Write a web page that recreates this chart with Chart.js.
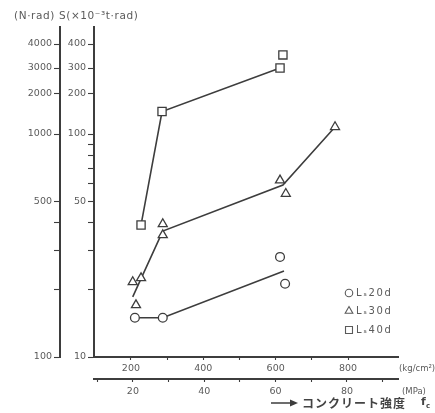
<!DOCTYPE html>
<html><head><meta charset="utf-8">
<script src="https://cdn.jsdelivr.net/npm/chart.js@4/dist/chart.umd.min.js"></script>
<style>html,body{margin:0;padding:0;background:#fff}#wrap{width:435px;height:413px;position:relative}</style>
</head><body><div id="wrap"><canvas id="c" width="435" height="413"></canvas></div>
<script>
// ---- data (x: concrete strength kg/cm2, y: S in x10^-3 t·rad) ----
const circleX = [211, 288, 612, 626];
const circleY = [15.0, 15.0, 28.1, 21.3];
const circleLineX = [211, 288, 623];
const circleLineY = [15.0, 15.0, 24.3];
const triX = [214, 205, 228, 288, 288, 612, 628, 764];
const triY = [17.1, 21.7, 22.6, 39.5, 35.2, 62, 54, 113];
const triLineX = [205, 288, 620, 764];
const triLineY = [18.6, 36.7, 59, 113];
const sqX = [228, 286, 612, 620];
const sqY = [39.1, 147.5, 300, 351];
const sqLineX = [228, 286, 612];
const sqLineY = [39.1, 147.5, 300];
const seriesNames = ['Lₛ20d', 'Lₛ30d', 'Lₛ40d'];

// ---- ticks ----
const yInnerTicks = [10,20,30,40,50,60,70,80,90,100,200,300,400];
const yInnerLabels = [10,50,100,200,300,400];
const yOuterTicks = [100,200,300,400,500,1000,2000,3000,4000];
const yOuterLabels = [100,500,1000,2000,3000,4000];
const xKgTicks = [200,300,400,500,600,700,800];
const xKgLabels = [200,400,600,800];
const xMpaTicks = [10,20,30,40,50,60,70,80,90];
const xMpaLabels = [20,40,60,80];

// ---- axis geometry of the printed (non-uniform) log scale ----
// [decades above axis minimum, fraction of axis height]
const KNOTS = [[0,0],[1,223/330],[Math.log10(20),263/330],[Math.log10(30),289/330],[Math.log10(40),313/330],[1.6906,1]];
function fwd(d){
  let i = 0;
  while (i < KNOTS.length-2 && d > KNOTS[i+1][0]) i++;
  const a = KNOTS[i], b = KNOTS[i+1];
  return a[1] + (d-a[0])*(b[1]-a[1])/(b[0]-a[0]);
}
function inv(f){
  let i = 0;
  while (i < KNOTS.length-2 && f > KNOTS[i+1][1]) i++;
  const a = KNOTS[i], b = KNOTS[i+1];
  return a[0] + (f-a[1])*(b[0]-a[0])/(b[1]-a[1]);
}
const LogBase = Chart.LogarithmicScale || Chart.registry.getScale('logarithmic');
class PieceLogScale extends LogBase {
  getPixelForValue(value){
    if (value === undefined || value === null || !(value > 0)) return NaN;
    return this.getPixelForDecimal(fwd(Math.log10(value/this.min)));
  }
  getValueForPixel(pixel){
    return this.min*Math.pow(10, inv(this.getDecimalForPixel(pixel)));
  }
}
PieceLogScale.id = 'piecelog';
PieceLogScale.defaults = {};
Chart.register(PieceLogScale);

const INK = '#3d3d3d';
const TXT = '#5a5a5a';
const FONT = {family:'DejaVu Sans', size:9.5};
const pts = (xs, ys) => xs.map((x,i)=>({x:x, y:ys[i]}));

function axisCommon(ticksArr, labelsArr, tickLen, pad){
  return {
    afterBuildTicks: s => { s.ticks = ticksArr.map(v=>({value:v})); },
    ticks: {autoSkip:false, maxRotation:0, padding:pad, color:TXT, font:FONT,
            callback: v => labelsArr.includes(v) ? String(v) : ''},
    grid: {drawOnChartArea:false, drawTicks:true, tickLength:tickLen, color:INK, tickWidth:1.1},
    border: {display:true, color:INK, width:2}
  };
}

const markerStyle = {
  circle: {pointStyle:'circle', radius:4.4},
  triangle: {pointStyle:'triangle', radius:5.2},
  rect: {pointStyle:'rect', radius:5.8}
};
function markerDs(name, data, st){
  return {label:name, data:data, showLine:false, pointStyle:st.pointStyle, pointRadius:st.radius,
          pointBorderWidth:1.3, borderColor:INK, backgroundColor:'#fff', pointBackgroundColor:'#fff',
          pointBorderColor:INK, order:0, xAxisID:'x', yAxisID:'y'};
}
function lineDs(data){
  return {label:'', data:data, showLine:true, pointRadius:0, borderWidth:1.6, borderColor:INK,
          fill:false, tension:0, order:1, xAxisID:'x', yAxisID:'y'};
}

const textPlugin = {
  id:'texts',
  afterDraw(chart){
    const ctx = chart.ctx;
    ctx.save();
    ctx.fillStyle = TXT;
    ctx.textBaseline = 'middle';
    ctx.textAlign = 'left';
    ctx.font = '10.5px "DejaVu Sans"';
    try { ctx.letterSpacing = '0.6px'; } catch(e) {}
    ctx.fillText('(N·rad) S(×10⁻³t·rad)', 14, 16);
    try { ctx.letterSpacing = '0px'; } catch(e) {}
    ctx.font = '8.5px "DejaVu Sans"';
    ctx.fillText('(kg/cm²)', 399, 369);
    ctx.fillText('(MPa)', 402, 392);
    // arrow + axis name
    ctx.strokeStyle = INK; ctx.fillStyle = INK; ctx.lineWidth = 1.5;
    ctx.beginPath(); ctx.moveTo(271, 403); ctx.lineTo(292, 403); ctx.stroke();
    ctx.beginPath(); ctx.moveTo(298, 403); ctx.lineTo(290, 399.5); ctx.lineTo(290, 406.5); ctx.closePath(); ctx.fill();
    ctx.fillStyle = '#444';
    ctx.font = 'bold 12px "Noto Sans CJK JP"';
    try { ctx.letterSpacing = '1px'; } catch(e) {}
    ctx.fillText('コンクリート強度', 302, 403);
    try { ctx.letterSpacing = '0px'; } catch(e) {}
    ctx.font = 'bold 11px "DejaVu Sans"';
    ctx.fillText('f', 421, 402);
    ctx.font = 'bold 7px "DejaVu Sans"';
    ctx.fillText('c', 426, 406);
    // legend
    const rows = [['circle',293],['triangle',311],['rect',330]];
    ctx.font = '10px "DejaVu Sans"';
    try { ctx.letterSpacing = '1.6px'; } catch(e) {}
    rows.forEach((r,i)=>{
      const st = markerStyle[r[0]];
      ctx.strokeStyle = TXT; ctx.fillStyle = '#fff'; ctx.lineWidth = 1.1;
      Chart.helpers.drawPoint(ctx, {pointStyle:st.pointStyle, radius:st.radius*0.85, borderWidth:1.1, rotation:0}, 349, r[1]);
      ctx.fillStyle = TXT;
      ctx.fillText(seriesNames[i], 356, r[1]);
    });
    ctx.restore();
  }
};

new Chart(document.getElementById('c'), {
  type:'scatter',
  data:{datasets:[
    markerDs(seriesNames[0], pts(circleX,circleY), markerStyle.circle),
    markerDs(seriesNames[1], pts(triX,triY), markerStyle.triangle),
    markerDs(seriesNames[2], pts(sqX,sqY), markerStyle.rect),
    lineDs(pts(circleLineX,circleLineY)),
    lineDs(pts(triLineX,triLineY)),
    lineDs(pts(sqLineX,sqLineY))
  ]},
  options:{
    responsive:false, animation:false, devicePixelRatio:1,
    layout:{padding:{top:27, right:37, bottom:14, left:0}},
    plugins:{legend:{display:false}, tooltip:{enabled:false}, title:{display:false}},
    scales:{
      x: Object.assign({type:'linear', position:'bottom', weight:0, min:98, max:938,
           afterFit: s => { s.height = 22; }}, axisCommon(xKgTicks, xKgLabels, 3, 3)),
      x2: Object.assign({type:'linear', position:'bottom', weight:1, min:9.1, max:94.3,
           afterFit: s => { s.height = 20; }}, axisCommon(xMpaTicks, xMpaLabels, 3, 4)),
      y: Object.assign({type:'piecelog', position:'left', weight:0, min:10, max:490.6,
           afterFit: s => { s.width = 34; }}, axisCommon(yInnerTicks, yInnerLabels, 6, 2)),
      y2: Object.assign({type:'piecelog', position:'left', weight:1, min:100, max:4906,
           afterFit: s => { s.width = 60; }}, axisCommon(yOuterTicks, yOuterLabels, 6, 2))
    }
  },
  plugins:[textPlugin]
});
</script>
</body></html>
